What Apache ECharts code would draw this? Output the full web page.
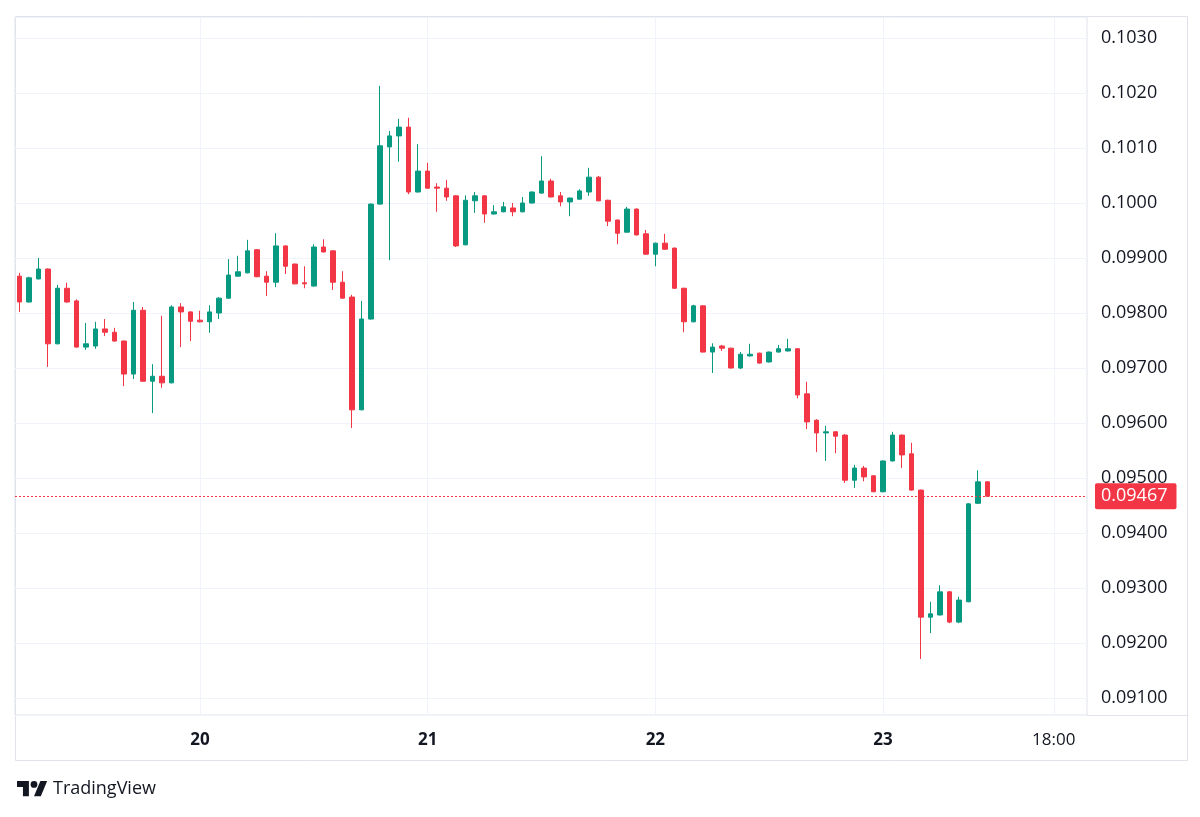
<!DOCTYPE html>
<html>
<head>
<meta charset="utf-8">
<title>Hourly candles</title>
<script src="https://cdn.jsdelivr.net/npm/echarts@6/dist/echarts.min.js"></script>
<style>
  html, body { margin: 0; padding: 0; background: #fff; }
  #chart { width: 1200px; height: 817px; }
</style>
</head>
<body>
<div id="chart"></div>
<script>
// hourly candles, 19th 05:00 -> 23rd 11:00
const startDay = 19;
const startHour = 5;
const slotCount = 113; // axis keeps running to the right of the last candle

const opens = [0.09867,0.09820,0.09862,0.09880,0.09744,0.09845,0.09822,0.09738,0.09740,0.09771,
  0.09765,0.09749,0.09689,0.09805,0.09676,0.09685,0.09673,0.09811,0.09802,0.09787,
  0.09784,0.09800,0.09827,0.09867,0.09873,0.09915,0.09867,0.09856,0.09922,0.09889,
  0.09855,0.09849,0.09920,0.09913,0.09856,0.09829,0.09624,0.09789,0.09998,0.10102,
  0.10122,0.10138,0.10020,0.10058,0.10029,0.10027,0.10013,0.09924,0.10004,0.10013,
  0.09980,0.09984,0.09991,0.09984,0.10000,0.10018,0.10040,0.10013,0.10002,0.10007,
  0.10020,0.10047,0.10005,0.09969,0.09947,0.09989,0.09944,0.09907,0.09927,0.09918,
  0.09845,0.09784,0.09813,0.09729,0.09740,0.09736,0.09700,0.09722,0.09727,0.09711,
  0.09729,0.09731,0.09735,0.09653,0.09605,0.09582,0.09584,0.09578,0.09496,0.09518,
  0.09504,0.09475,0.09531,0.09578,0.09544,0.09478,0.09247,0.09251,0.09293,0.09238,
  0.09275,0.09454,0.09493];
const closes = [0.09820,0.09864,0.09880,0.09744,0.09845,0.09820,0.09738,0.09744,0.09771,0.09765,
  0.09749,0.09689,0.09805,0.09676,0.09685,0.09673,0.09811,0.09802,0.09785,0.09784,
  0.09802,0.09827,0.09869,0.09875,0.09913,0.09866,0.09856,0.09922,0.09885,0.09853,
  0.09853,0.09920,0.09911,0.09856,0.09827,0.09624,0.09789,0.09998,0.10104,0.10122,
  0.10138,0.10020,0.10058,0.10027,0.10027,0.10011,0.09922,0.10005,0.10013,0.09980,
  0.09984,0.09993,0.09984,0.10000,0.10020,0.10040,0.10011,0.10002,0.10009,0.10022,
  0.10047,0.10004,0.09967,0.09945,0.09989,0.09942,0.09907,0.09927,0.09916,0.09845,
  0.09784,0.09813,0.09729,0.09738,0.09736,0.09700,0.09725,0.09725,0.09709,0.09729,
  0.09735,0.09735,0.09651,0.09602,0.09582,0.09584,0.09576,0.09496,0.09518,0.09502,
  0.09475,0.09531,0.09578,0.09542,0.09478,0.09247,0.09253,0.09293,0.09238,0.09278,
  0.09453,0.09493,0.09467];
const lows = [0.09802,0.09819,0.09861,0.09702,0.09743,0.09819,0.09737,0.09733,0.09735,0.09758,
  0.09748,0.09667,0.09680,0.09675,0.09618,0.09664,0.09672,0.09738,0.09749,0.09783,
  0.09764,0.09789,0.09826,0.09866,0.09872,0.09865,0.09831,0.09847,0.09871,0.09852,
  0.09845,0.09848,0.09910,0.09842,0.09826,0.09591,0.09623,0.09788,0.09997,0.09896,
  0.10075,0.10016,0.10019,0.10026,0.09984,0.10004,0.09920,0.09923,0.09982,0.09964,
  0.09979,0.09983,0.09976,0.09983,0.09999,0.10017,0.10010,0.09994,0.09976,0.10006,
  0.10013,0.10003,0.09958,0.09925,0.09946,0.09941,0.09906,0.09885,0.09915,0.09844,
  0.09765,0.09783,0.09728,0.09691,0.09731,0.09699,0.09698,0.09721,0.09708,0.09710,
  0.09728,0.09730,0.09645,0.09589,0.09547,0.09531,0.09545,0.09491,0.09482,0.09494,
  0.09474,0.09474,0.09530,0.09518,0.09477,0.09171,0.09218,0.09250,0.09236,0.09236,
  0.09274,0.09453,0.09466];
const highs = [0.09873,0.09866,0.09900,0.09881,0.09851,0.09855,0.09825,0.09782,0.09784,0.09789,
  0.09773,0.09750,0.09820,0.09811,0.09707,0.09795,0.09814,0.09818,0.09803,0.09804,
  0.09814,0.09829,0.09898,0.09904,0.09933,0.09916,0.09876,0.09945,0.09923,0.09890,
  0.09885,0.09925,0.09934,0.09914,0.09876,0.09833,0.09822,0.09999,0.10213,0.10131,
  0.10153,0.10155,0.10107,0.10073,0.10036,0.10042,0.10014,0.10014,0.10020,0.10014,
  0.09996,0.10002,0.10000,0.10011,0.10021,0.10085,0.10044,0.10020,0.10010,0.10025,
  0.10064,0.10049,0.10006,0.09970,0.09993,0.09990,0.09951,0.09928,0.09944,0.09919,
  0.09846,0.09815,0.09814,0.09745,0.09742,0.09737,0.09729,0.09744,0.09728,0.09730,
  0.09742,0.09753,0.09736,0.09675,0.09607,0.09595,0.09585,0.09580,0.09524,0.09522,
  0.09505,0.09532,0.09584,0.09579,0.09564,0.09479,0.09275,0.09305,0.09294,0.09284,
  0.09454,0.09514,0.09494];

const lastPrice = 0.09467;

// time axis ticks
const dayTicks = ['20 00:00', '21 00:00', '22 00:00', '23 00:00'];
const hourTicks = ['23 18:00'];

// price axis range
const priceMin = 0.090691;
const priceMax = 0.103382;

const UP = '#089981';
const DOWN = '#F23645';
const TEXT = '#131722';
const FONT = '"Open Sans", "Noto Sans", sans-serif';

// category per hour slot
const categories = [];
for (let i = 0; i < slotCount; i++) {
  const h = startHour + i;
  const hh = String(h % 24).padStart(2, '0');
  categories.push((startDay + Math.floor(h / 24)) + ' ' + hh + ':00');
}

const candles = opens.map((o, i) => [o, closes[i], lows[i], highs[i]]);

const isTick = v => dayTicks.includes(v) || hourTicks.includes(v);

const chart = echarts.init(document.getElementById('chart'), null, { renderer: 'canvas' });

const option = {
  animation: false,
  backgroundColor: '#ffffff',
  textStyle: { fontFamily: FONT },
  grid: {
    left: 15, top: 17, width: 1072, height: 698,
    show: true, borderColor: '#e0e3eb', borderWidth: 1
  },
  xAxis: {
    type: 'category',
    data: categories,
    boundaryGap: true,
    axisLine: { show: false },
    axisTick: { show: false },
    axisLabel: {
      interval: (i, v) => isTick(v),
      margin: 17,
      color: TEXT,
      fontSize: 17,
      fontFamily: FONT,
      formatter: v => dayTicks.includes(v) ? '{d|' + v.split(' ')[0] + '}' : v.split(' ')[1],
      rich: { d: { fontWeight: 700, fontSize: 17, color: TEXT, fontFamily: FONT } }
    },
    splitLine: {
      show: true,
      interval: (i, v) => isTick(v),
      alignWithLabel: true,
      lineStyle: { color: '#f0f3fa', width: 1 }
    }
  },
  yAxis: {
    type: 'value',
    position: 'right',
    min: priceMin,
    max: priceMax,
    splitNumber: 13,
    minInterval: 0.001,
    maxInterval: 0.001,
    axisLine: { show: false },
    axisTick: { show: false },
    axisLabel: {
      margin: 14,
      color: TEXT,
      fontSize: 18,
      fontFamily: FONT,
      showMinLabel: false,
      showMaxLabel: false,
      formatter: v => v >= 0.09995 ? v.toFixed(4) : v.toFixed(5)
    },
    splitLine: { show: true, lineStyle: { color: '#f0f3fa', width: 1 } }
  },
  series: [{
    type: 'candlestick',
    data: candles,
    barWidth: 5,
    itemStyle: {
      color: UP, color0: DOWN,
      borderColor: UP, borderColor0: DOWN,
      borderWidth: 1
    },
    markLine: {
      silent: true,
      symbol: 'none',
      precision: 5,
      lineStyle: { color: DOWN, type: [2, 2], width: 1 },
      label: {
        position: 'end',
        distance: 8,
        formatter: () => lastPrice.toFixed(5),
        color: '#ffffff',
        backgroundColor: DOWN,
        fontSize: 18,
        fontFamily: FONT,
        padding: [4, 9, 4, 6],
        borderRadius: 2
      },
      data: [{ yAxis: lastPrice }]
    }
  }],
  graphic: [
    {
      type: 'rect',
      shape: { x: 15.5, y: 16.5, width: 1172, height: 744 },
      style: { fill: 'none', stroke: '#e0e3eb', lineWidth: 1 },
      silent: true
    },
    {
      // time scale separator runs under the price scale too
      type: 'line',
      shape: { x1: 1087, y1: 715.5, x2: 1188, y2: 715.5 },
      style: { stroke: '#e0e3eb', lineWidth: 1 },
      silent: true
    },
    {
      // TradingView mark
      type: 'group',
      x: 17, y: 777.6,
      scaleX: 0.85, scaleY: 0.85,
      children: [
        { type: 'polygon', shape: { points: [[0, 4], [14, 4], [14, 22], [7, 22], [7, 11], [0, 11]] }, style: { fill: TEXT } },
        { type: 'polygon', shape: { points: [[20, 22], [27.5, 4], [35.5, 4], [28, 22]] }, style: { fill: TEXT } },
        { type: 'circle', shape: { cx: 20, cy: 8, r: 4 }, style: { fill: TEXT } }
      ]
    },
    {
      type: 'text',
      x: 53, y: 789,
      style: {
        text: 'TradingView',
        fill: TEXT,
        font: '500 18px ' + FONT,
        textVerticalAlign: 'middle'
      }
    }
  ]
};

chart.setOption(option);
</script>
</body>
</html>
